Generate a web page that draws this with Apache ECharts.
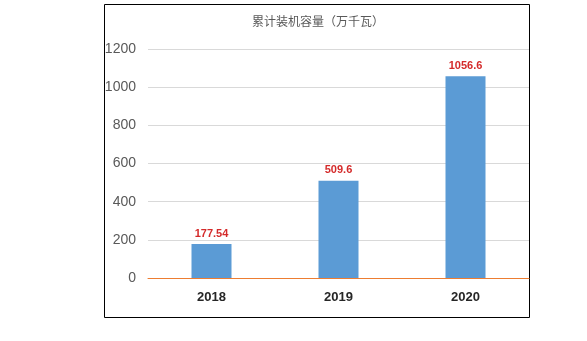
<!DOCTYPE html>
<html><head><meta charset="utf-8">
<script src="https://cdn.jsdelivr.net/npm/echarts@6/dist/echarts.min.js"></script>
<style>html,body{margin:0;padding:0;background:#fff;}#c{width:587px;height:341px;}</style>
</head><body><div id="c"></div>
<script>
const categories = ['2018', '2019', '2020'];
const values = [177.54, 509.6, 1056.6];
const valueLabels = ['177.54', '509.6', '1056.6'];
const titleText = '累计装机容量（万千瓦）';

const chart = echarts.init(document.getElementById('c'), null, {renderer: 'canvas'});
chart.setOption({
  animation: false,
  backgroundColor: '#fff',
  title: {
    text: titleText, left: 313, top: 10, textAlign: 'center',
    textStyle: {fontSize: 12, fontWeight: 'normal', color: '#595959', fontFamily: 'Noto Sans CJK SC'}
  },
  graphic: [{
    type: 'rect', shape: {x: 104.5, y: 4.5, width: 425, height: 313},
    style: {fill: 'none', stroke: '#000', lineWidth: 1}, silent: true
  }],
  grid: {left: 148, right: 58, top: 49, bottom: 63, containLabel: false},
  xAxis: {
    type: 'category', data: categories,
    axisLine: {show: true, lineStyle: {color: '#ed7d31', width: 1}},
    axisTick: {show: false},
    axisLabel: {margin: 13, fontSize: 13, fontWeight: 'bold', color: '#262626', fontFamily: 'Liberation Sans'}
  },
  yAxis: {
    type: 'value', min: 0, max: 1200, interval: 200,
    axisLine: {show: false}, axisTick: {show: false},
    splitLine: {lineStyle: {color: '#d9d9d9', width: 1}},
    axisLabel: {margin: 12, fontSize: 14, color: '#595959', fontFamily: 'Liberation Sans',
      formatter: v => String(v)}
  },
  series: [{
    type: 'bar', data: values, barWidth: 40, z: 1,
    itemStyle: {color: '#5b9bd5'},
    label: {
      show: true, position: 'top', distance: 5,
      formatter: p => valueLabels[p.dataIndex],
      fontSize: 11, fontWeight: 'bold', color: '#d42a2a', fontFamily: 'Liberation Sans'
    }
  }]
});
</script></body></html>
